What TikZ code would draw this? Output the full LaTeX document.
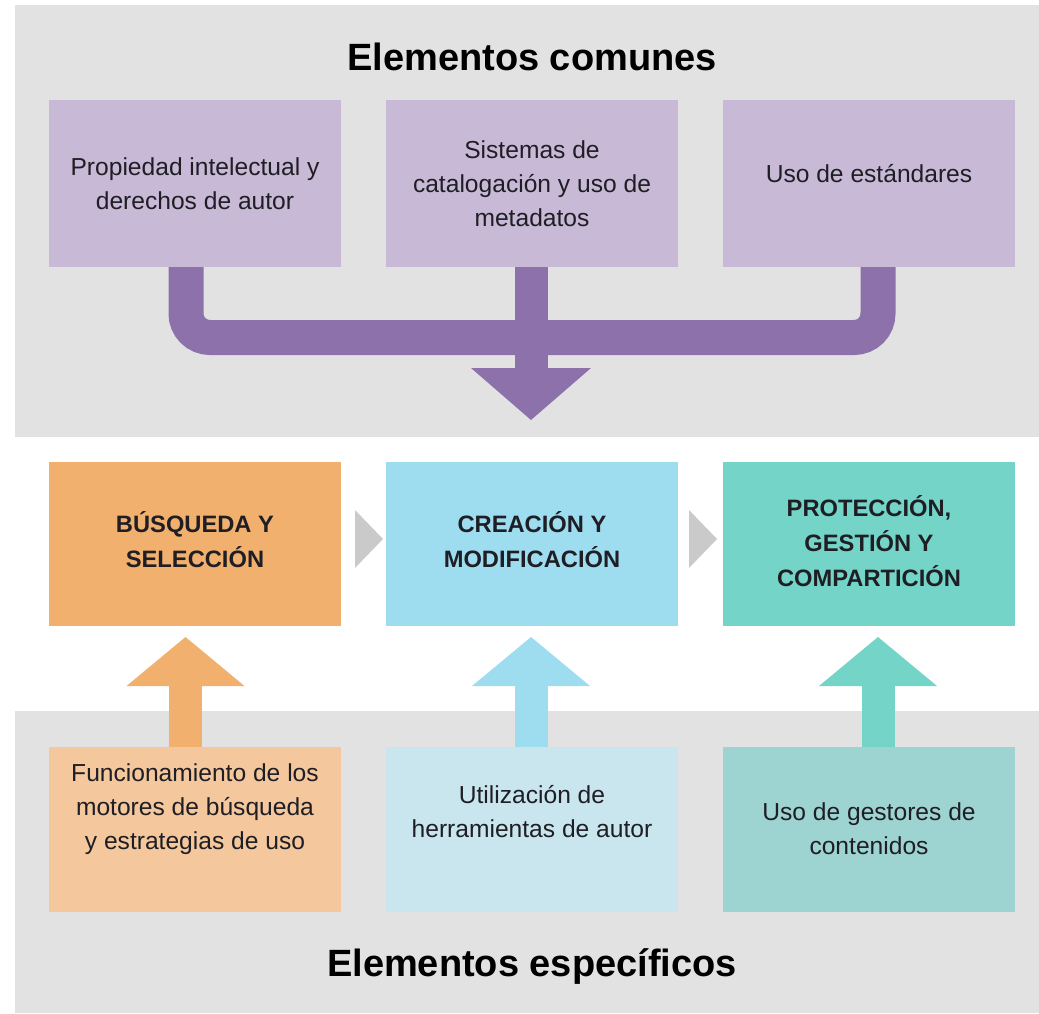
\documentclass[tikz,border=0pt]{standalone}
\usepackage{fontspec}
\setmainfont{Liberation Sans}
\usetikzlibrary{calc}
\begin{document}
\begin{tikzpicture}[x=1pt,y=-1pt,
  panel/.style={fill=panelgrey},
  boxbase/.style={rectangle,inner sep=0pt,outer sep=0pt,minimum width=292pt,draw=none},
  topbox/.style={boxbase,fill=boxpurple,minimum height=167pt},
  midbox/.style={boxbase,minimum height=164pt},
  botbox/.style={boxbase,minimum height=165pt},
  bodytext/.style={align=center,text=textdark,font=\fontsize{24.6}{34}\selectfont,inner sep=0pt},
  boldtext/.style={align=center,text=textdark,font=\fontsize{23.7}{35}\selectfont\bfseries,inner sep=0pt},
  titletext/.style={text=black,font=\fontsize{38}{44}\selectfont\bfseries,inner sep=0pt},
  chevron/.style={fill=chevgrey},
]
\definecolor{panelgrey}{HTML}{E2E2E2}
\definecolor{boxpurple}{HTML}{C8B9D7}
\definecolor{arrowpurple}{HTML}{8C71AB}
\definecolor{orangebox}{HTML}{F2B06E}
\definecolor{orangelight}{HTML}{F4C79C}
\definecolor{bluebox}{HTML}{9EDCF0}
\definecolor{bluelight}{HTML}{C9E6EF}
\definecolor{tealbox}{HTML}{74D4C8}
\definecolor{teallight}{HTML}{9DD3D0}
\definecolor{chevgrey}{HTML}{CACACA}
\definecolor{textdark}{HTML}{1E1E24}

\useasboundingbox[fill=white] (0,0) rectangle (1039,1013);

% panels
\fill[panelgrey] (15,5) rectangle (1039,437);
\fill[panelgrey] (15,711) rectangle (1039,1013);

% titles
\node[titletext] (tcom) at (532,57) {Elementos comunes};
\node[titletext] (tesp) at (532,966) {Elementos específicos};

% purple merging connector (behind boxes)
\coordinate (ls) at (186,255);
\coordinate (rs) at (878,255);
\coordinate (ms) at (531,255);
\coordinate (mb) at (531,370);
\draw[arrowpurple,line width=35pt,rounded corners=24pt]
  (ls) -- (186,337.5) -- (878,337.5) -- (rs);
\fill[arrowpurple] ($(ms)+(-16.5,0)$) rectangle ($(mb)+(16.5,0)$);
\fill[arrowpurple] (471,368) -- (591,368) -- (531,420) -- cycle;

% top boxes
\node[topbox] (p1) at (195,183.5) {};
\node[topbox] (p2) at (532,183.5) {};
\node[topbox] (p3) at (869,183.5) {};
\node[bodytext] (tp1) at (195,183.5) {Propiedad intelectual y\\derechos de autor};
\node[bodytext] (tp2) at (532,183.5) {Sistemas de\\catalogación y uso de\\metadatos};
\node[bodytext] (tp3) at (869,174) {Uso de estándares};

% middle boxes
\node[midbox,fill=orangebox] (m1) at (195,544) {};
\node[midbox,fill=bluebox] (m2) at (532,544) {};
\node[midbox,fill=tealbox] (m3) at (869,544) {};
\node[boldtext] (tm1) at (195,540) {BÚSQUEDA Y\\SELECCIÓN};
\node[boldtext] (tm2) at (532,540) {CREACIÓN Y\\MODIFICACIÓN};
\node[boldtext] (tm3) at (869,541) {PROTECCIÓN,\\GESTIÓN Y\\COMPARTICIÓN};

% chevrons
\fill[chevron] (355,510) -- (383,539) -- (355,568) -- cycle;
\fill[chevron] (689,510) -- (717,539) -- (689,568) -- cycle;

% up arrows
\foreach \cx/\col in {185.5/orangebox,531/bluebox,878/tealbox}{
  \fill[\col] (\cx-16.5,684) rectangle (\cx+16.5,750);
  \fill[\col] (\cx-59,686) -- (\cx+59,686) -- (\cx,637) -- cycle;
}

% bottom boxes
\node[botbox,fill=orangelight] (b1) at (195,829.5) {};
\node[botbox,fill=bluelight] (b2) at (532,829.5) {};
\node[botbox,fill=teallight] (b3) at (869,829.5) {};
\node[bodytext] (tb1) at (195,809) {Funcionamiento de los\\motores de búsqueda\\y estrategias de uso};
\node[bodytext] (tb2) at (532,812) {Utilización de\\herramientas de autor};
\node[bodytext] (tb3) at (869,829) {Uso de gestores de\\contenidos};
\end{tikzpicture}
\end{document}
